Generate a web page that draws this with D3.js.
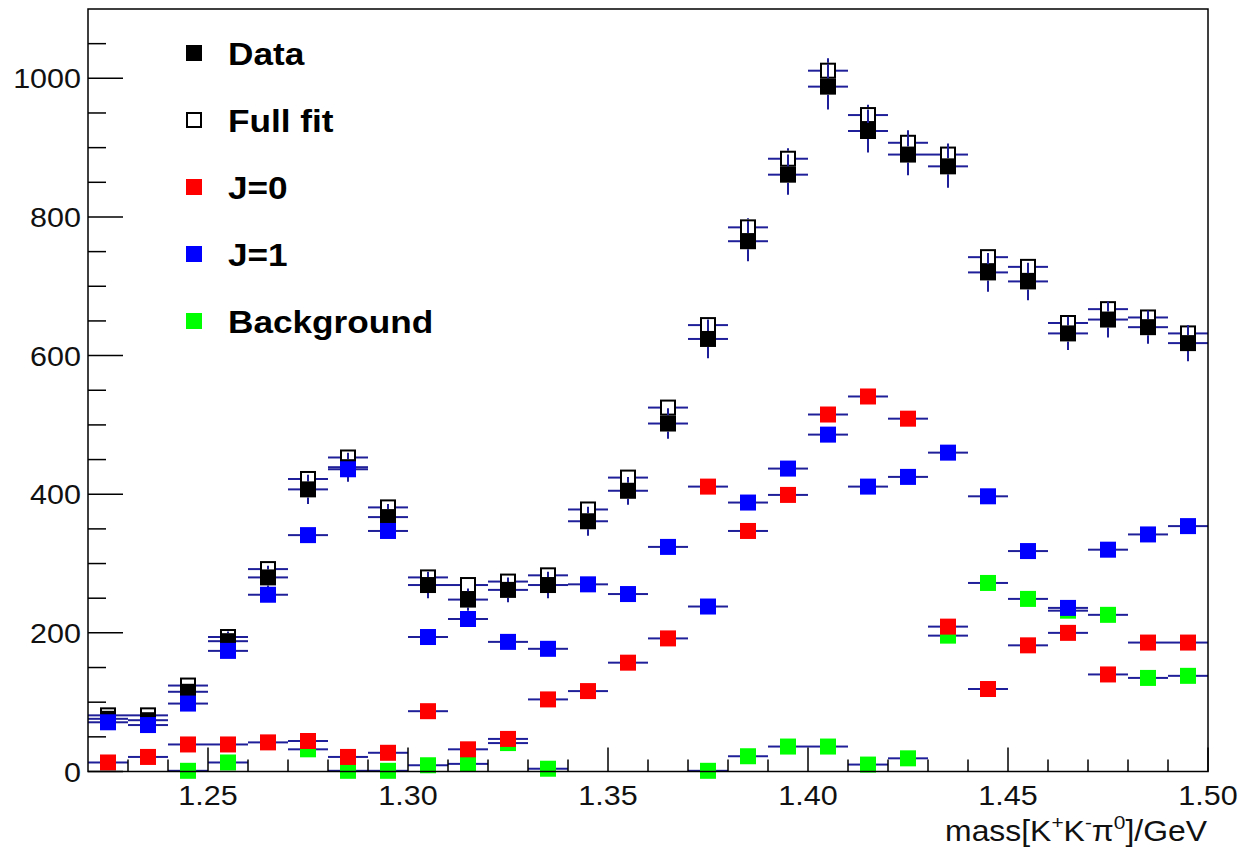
<!DOCTYPE html>
<html>
<head>
<meta charset="utf-8">
<script src="https://cdnjs.cloudflare.com/ajax/libs/d3/7.8.5/d3.min.js"></script>
<style>
  html, body { margin: 0; padding: 0; background: #fff; }
  svg { display: block; }
  text { font-family: "Liberation Sans", Arial, Helvetica, sans-serif; }
</style>
</head>
<body>
<svg id="chart" width="1240" height="850"></svg>
<script>
// ---- data (bin centres in GeV) ----
const binCenters = [1.225,1.235,1.245,1.255,1.265,1.275,1.285,1.295,1.305,1.315,1.325,1.335,1.345,1.355,
                    1.365,1.375,1.385,1.395,1.405,1.415,1.425,1.435,1.445,1.455,1.465,1.475,1.485,1.495];
const binWidth = 0.01;
const dataVals = [76,74,115,188,280,407,439,367,269,248,262,269,361,405,502,624,765,861,988,924,890,873,720,707,632,652,641,618];
const dataErr  = [9,9,11,14,17,21,21,19,19,16,18,19,21,20,22,28,29,29,33,31,30,31,28,27,24,26,24,26];
const fitVals  = [81,81,124,194,292,422,453,381,280,269,274,283,378,424,525,644,785,884,1011,947,907,890,742,728,647,667,655,632];
const fitErr   = [0,0,0,0,0,0,0,0,0,0,0,0,0,0,0,0,13,15,18,15,18,16,0,0,0,0,0,0];
const j0Vals   = [13,21,39,39,42,44,21,27,87,32,47,104,116,157,192,411,347,399,515,541,509,209,119,182,200,140,186,186];
const j1Vals   = [71,67,98,174,255,341,436,347,194,220,187,177,270,256,324,238,388,437,486,411,425,460,397,318,236,320,342,354];
const bkgVals  = [null,null,1,13,null,32,1,1,9,11,41,4,null,null,null,1,22,36,36,10,19,196,272,249,232,226,135,138];

const yMajorTicks = [0,200,400,600,800,1000];
const yMinorTicks = [50,100,150,250,300,350,450,500,550,650,700,750,850,900,950,1050];
const xMajorTicks = [1.25,1.30,1.35,1.40,1.45,1.50];
const xTickLabels = ["1.25","1.30","1.35","1.40","1.45","1.50"];
const xMinorTicks = [1.23,1.24,1.26,1.27,1.28,1.29,1.31,1.32,1.33,1.34,1.36,1.37,1.38,1.39,1.41,1.42,1.43,1.44,1.46,1.47,1.48,1.49];

const legendLabels = ["Data","Full fit","J=0","J=1","Background"];

// ---- layout ----
const L = 88, R = 1208, T = 9, B = 771.5;
const x = d3.scaleLinear().domain([1.22, 1.50]).range([L, R]);
const y = d3.scaleLinear().domain([0, 1100]).range([B, T]);
const MS = 16, H = MS / 2;
const errColor = "#1f1f99";
const TXS = 1.09; // horizontal text stretch

const svg = d3.select("#chart");
svg.append("rect").attr("width",1240).attr("height",850).attr("fill","#fff");

// ---- series drawing ----
function drawSeries(vals, errs, opts) {
  const g = svg.append("g");
  vals.forEach((v, i) => {
    if (v === null) return;
    const cx = x(binCenters[i]);
    const cy = y(v);
    const xl = x(binCenters[i] - binWidth/2), xr = x(binCenters[i] + binWidth/2);
    g.append("line").attr("x1", xl).attr("x2", cx - H).attr("y1", cy).attr("y2", cy)
      .attr("stroke", errColor).attr("stroke-width", 2);
    g.append("line").attr("x1", cx + H).attr("x2", xr).attr("y1", cy).attr("y2", cy)
      .attr("stroke", errColor).attr("stroke-width", 2);
    if (errs && errs[i] > 0) {
      const yt = y(v + errs[i]), yb = y(v - errs[i]);
      if (yt < cy - H) g.append("line").attr("x1", cx).attr("x2", cx).attr("y1", yt).attr("y2", cy - H)
        .attr("stroke", errColor).attr("stroke-width", 2);
      if (yb > cy + H) g.append("line").attr("x1", cx).attr("x2", cx).attr("y1", cy + H).attr("y2", yb)
        .attr("stroke", errColor).attr("stroke-width", 2);
    }
    if (opts.open) {
      g.append("rect").attr("x", cx - H + 1).attr("y", cy - H + 1).attr("width", MS - 2).attr("height", MS - 2)
        .attr("fill", "none").attr("stroke", "#000").attr("stroke-width", 2);
    } else {
      g.append("rect").attr("x", cx - H).attr("y", cy - H).attr("width", MS).attr("height", MS)
        .attr("fill", opts.color);
    }
  });
}

drawSeries(fitVals, fitErr, {open: true});
drawSeries(dataVals, dataErr, {color: "#000"});
drawSeries(bkgVals, null, {color: "#00ff00"});
drawSeries(j0Vals, null, {color: "#ff0000"});
drawSeries(j1Vals, null, {color: "#0000ff"});

// ---- frame ----
svg.append("rect").attr("x", L).attr("y", T).attr("width", R - L).attr("height", B - T)
  .attr("fill", "none").attr("stroke", "#000").attr("stroke-width", 1.5);

// ---- y ticks ----
const ax = svg.append("g");
yMajorTicks.forEach(t => {
  ax.append("line").attr("x1", L).attr("x2", L + 35).attr("y1", y(t)).attr("y2", y(t))
    .attr("stroke", "#000").attr("stroke-width", 1.5);
  ax.append("text").attr("transform", `translate(81,${y(t) + 10}) scale(${TXS},1)`)
    .attr("text-anchor", "end").attr("font-size", 28).attr("fill", "#111").text(d3.format("d")(t));
});
yMinorTicks.forEach(t => {
  ax.append("line").attr("x1", L).attr("x2", L + 18).attr("y1", y(t)).attr("y2", y(t))
    .attr("stroke", "#000").attr("stroke-width", 1.5);
});
// ---- x ticks ----
xMajorTicks.forEach((t, i) => {
  ax.append("line").attr("x1", x(t)).attr("x2", x(t)).attr("y1", B).attr("y2", B - 24)
    .attr("stroke", "#000").attr("stroke-width", 1.5);
  ax.append("text").attr("transform", `translate(${x(t)},805) scale(${TXS},1)`)
    .attr("text-anchor", "middle").attr("font-size", 28).attr("fill", "#111").text(xTickLabels[i]);
});
xMinorTicks.forEach(t => {
  ax.append("line").attr("x1", x(t)).attr("x2", x(t)).attr("y1", B).attr("y2", B - 12)
    .attr("stroke", "#000").attr("stroke-width", 1.5);
});

// ---- axis title ----
const tt = svg.append("text").attr("transform", `translate(1207,841) scale(1.1,1)`)
  .attr("text-anchor", "end").attr("font-size", 29).attr("fill", "#111");
tt.append("tspan").text("mass[K");
tt.append("tspan").attr("font-size", 19).attr("dy", -12).text("+");
tt.append("tspan").attr("dy", 12).text("K");
tt.append("tspan").attr("font-size", 19).attr("dy", -12).text("-");
tt.append("tspan").attr("dy", 12).text("π");
tt.append("tspan").attr("font-size", 19).attr("dy", -12).text("0");
tt.append("tspan").attr("dy", 12).text("]/GeV");

// ---- legend ----
const legendStyles = [
  {color: "#000"}, {open: true}, {color: "#ff0000"}, {color: "#0000ff"}, {color: "#00ff00"}
];
const legendY = d3.scaleLinear().domain([0, 4]).range([53, 321]);
legendLabels.forEach((lab, i) => {
  const cy = legendY(i), cx = 194;
  const s = legendStyles[i];
  if (s.open) {
    svg.append("rect").attr("x", cx - H + 1).attr("y", cy - H + 1).attr("width", MS - 2).attr("height", MS - 2)
      .attr("fill", "none").attr("stroke", "#000").attr("stroke-width", 2);
  } else {
    svg.append("rect").attr("x", cx - H).attr("y", cy - H).attr("width", MS).attr("height", MS).attr("fill", s.color);
  }
  svg.append("text").attr("transform", `translate(228,${cy + 12}) scale(1.1,1)`)
    .attr("font-size", 32).attr("font-weight", "bold").attr("fill", "#000").text(lab);
});
</script>
</body>
</html>
